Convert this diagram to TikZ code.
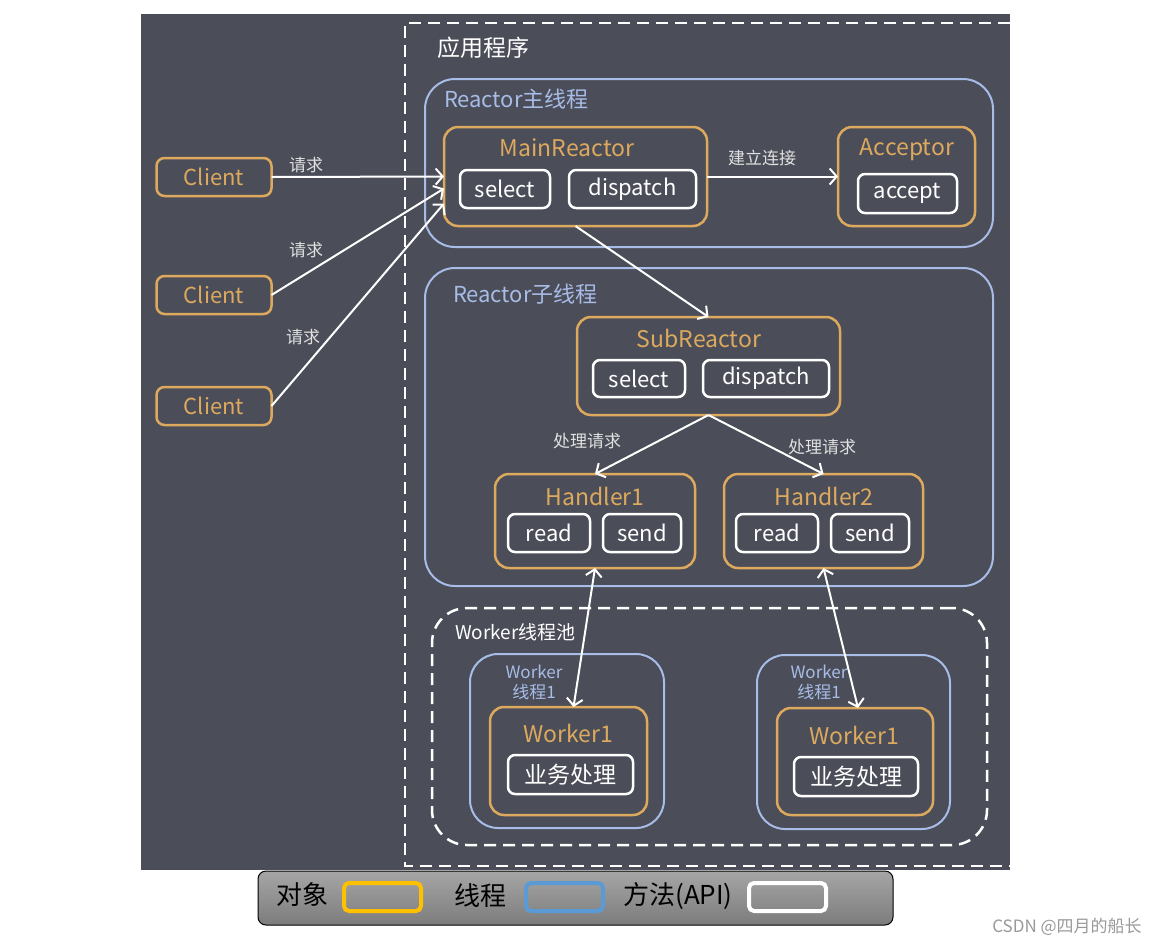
\documentclass[tikz,border=0pt]{standalone}
\usepackage{fontspec}
\setmainfont{Noto Sans CJK SC}
\usetikzlibrary{arrows.meta}
\definecolor{panel}{HTML}{4B4E58}
\definecolor{objc}{HTML}{DDA95E}
\definecolor{thrc}{HTML}{A8BCE8}
\definecolor{legtop}{HTML}{A6A6A6}
\definecolor{legbot}{HTML}{7C7C7C}
\definecolor{legobj}{HTML}{FFC000}
\definecolor{legthr}{HTML}{5B9BD5}
\begin{document}
\begin{tikzpicture}[x=1pt,y=-1pt,
    every node/.style={inner sep=0pt, outer sep=0pt},
    obj/.style={draw=objc, line width=2.5pt, rounded corners=14pt},
    thr/.style={draw=thrc, line width=2pt, rounded corners=30pt},
    api/.style={draw=white, line width=2.5pt, rounded corners=7pt, text=white, font=\fontsize{22}{22}\selectfont},
    ttl/.style={text=objc, font=\fontsize{23}{23}\selectfont},
    grp/.style={text=thrc, font=\fontsize{22}{22}\selectfont, anchor=west},
    lbl/.style={text=white!88!black, font=\fontsize{17}{17}\selectfont},
    flow/.style={draw=white, line width=2pt, -{Straight Barb[length=7pt,width=16pt]}},
    both/.style={draw=white, line width=2pt, {Straight Barb[length=7pt,width=16pt]}-{Straight Barb[length=7pt,width=16pt]}},
    swatch/.style={line width=4pt, rounded corners=5pt, minimum width=77pt, minimum height=28pt},
    legtxt/.style={text=black, font=\fontsize{26}{26}\selectfont}]
  \useasboundingbox (0,0) rectangle (1167,946);
  \fill[panel] (141,14) rectangle (1010,870);
  % application frame
  \draw[white, line width=2.5pt, dash pattern=on 12pt off 7pt] (1010,23) -- (405,23) -- (405,866) -- (1010,866);
  \node[text=white, font=\fontsize{23}{23}\selectfont, anchor=west] (app) at (437,48) {应用程序};

  % clients
  \node[obj, minimum width=115pt, minimum height=38pt, rounded corners=8pt, ttl, font=\fontsize{22}{22}\selectfont] (cl1) at (214,177) {Client};
  \node[obj, minimum width=115pt, minimum height=38pt, rounded corners=8pt, ttl, font=\fontsize{22}{22}\selectfont] (cl2) at (214,295) {Client};
  \node[obj, minimum width=115pt, minimum height=38pt, rounded corners=8pt, ttl, font=\fontsize{22}{22}\selectfont] (cl3) at (214,406) {Client};

  % reactor main thread
  \node[thr, minimum width=568pt, minimum height=168pt] (mainthr) at (709,163) {};
  \node[grp] (mainthrt) at (444,99) {Reactor主线程};
  \node[obj, minimum width=263pt, minimum height=99pt] (mr) at (575.5,176.5) {};
  \node[ttl] (mrt) at (567,148) {MainReactor};
  \node[api, minimum width=90pt, minimum height=38pt] (mrsel) at (505,189) {select};
  \node[api, minimum width=127pt, minimum height=38pt] (mrdis) at (632.5,189) {dispatch};
  \node[obj, minimum width=137pt, minimum height=99pt] (acc) at (906.5,176.5) {};
  \node[ttl] (acct) at (907,150) {Acceptor};
  \node[api, minimum width=99pt, minimum height=39pt] (accp) at (907.5,193.5) {accept};

  % reactor sub thread
  \node[thr, minimum width=568pt, minimum height=318pt] (subthr) at (709,427) {};
  \node[grp] (subthrt) at (453,294) {Reactor子线程};
  \node[obj, minimum width=263pt, minimum height=98pt] (sr) at (708.5,366) {};
  \node[ttl] (srt) at (699,338) {SubReactor};
  \node[api, minimum width=92pt, minimum height=37pt] (srsel) at (639,378.5) {select};
  \node[api, minimum width=126pt, minimum height=37pt] (srdis) at (766,378.5) {dispatch};
  \node[obj, minimum width=200pt, minimum height=94pt] (h1) at (595,521) {};
  \node[ttl] (h1t) at (595,496) {Handler1};
  \node[api, minimum width=82pt, minimum height=38pt] (h1r) at (549,533) {read};
  \node[api, minimum width=78pt, minimum height=38pt] (h1s) at (642,533) {send};
  \node[obj, minimum width=199pt, minimum height=94pt] (h2) at (823.5,521) {};
  \node[ttl] (h2t) at (824,496) {Handler2};
  \node[api, minimum width=82pt, minimum height=38pt] (h2r) at (777,533) {read};
  \node[api, minimum width=78pt, minimum height=38pt] (h2s) at (870,533) {send};

  % worker pool
  \node[draw=white, line width=2.5pt, dash pattern=on 12pt off 7pt, rounded corners=35pt, minimum width=555pt, minimum height=237pt] (pool) at (709.5,726.5) {};
  \node[text=white, font=\fontsize{19}{19}\selectfont, anchor=west] (poolt) at (455,632) {Worker线程池};
  \node[thr, minimum width=194pt, minimum height=174pt, rounded corners=28pt] (wt1) at (567,741) {};
  \node[text=thrc, font=\fontsize{17}{20}\selectfont, align=center] (wt1t) at (534,682) {Worker\\线程1};
  \node[obj, minimum width=157pt, minimum height=108pt] (wk1) at (568.5,761) {};
  \node[ttl] (wk1t) at (568,733) {Worker1};
  \node[api, minimum width=125pt, minimum height=39pt, font=\fontsize{23}{23}\selectfont] (wk1b) at (570.5,774.5) {业务处理};
  \node[thr, minimum width=193pt, minimum height=174pt, rounded corners=28pt] (wt2) at (853.5,742) {};
  \node[text=thrc, font=\fontsize{17}{20}\selectfont, align=center] (wt2t) at (819,682) {Worker\\线程1};
  \node[obj, minimum width=156pt, minimum height=107pt] (wk2) at (855,761.5) {};
  \node[ttl] (wk2t) at (854,735) {Worker1};
  \node[api, minimum width=124pt, minimum height=39pt, font=\fontsize{23}{23}\selectfont] (wk2b) at (856,776.5) {业务处理};

  % connectors
  \draw[flow] (cl1.east) -- (mr.west);
  \draw[flow] (cl2.east) -- ([yshift=-12pt]mr.west);
  \draw[flow] (cl3.east) -- ([yshift=-27pt]mr.west);
  \node[lbl] (rq1) at (306,165) {请求};
  \node[lbl] (rq2) at (306,250) {请求};
  \node[lbl] (rq3) at (303,337) {请求};
  \draw[flow] (mr.east) -- (acc.west);
  \node[lbl] (conn) at (762,158) {建立连接};
  \draw[flow] (mr.south) -- (sr.north);
  \draw[flow] (sr.south) -- (h1.north);
  \draw[flow] (sr.south) -- (h2.north);
  \node[lbl] (hd1) at (587,441) {处理请求};
  \node[lbl] (hd2) at (822,447) {处理请求};
  \draw[both] (h1.south) -- ([xshift=5pt]wk1.north);
  \draw[both] (h2.south) -- ([xshift=3pt]wk2.north);

  % legend
  \node[draw=black, line width=1pt, rounded corners=8pt, top color=legtop, bottom color=legbot, minimum width=635pt, minimum height=54pt] (leg) at (575.5,898) {};
  \node[legtxt] (legobjt) at (302,895) {对象};
  \node[swatch, draw=legobj] (legobjs) at (382.5,897) {};
  \node[legtxt] (legthrt) at (480,896) {线程};
  \node[swatch, draw=legthr] (legthrs) at (564.5,897) {};
  \node[legtxt] (legapit) at (678,896) {方法(API)};
  \node[swatch, draw=white] (legapis) at (787.5,897) {};
  \node[text=black!40, font=\fontsize{17}{17}\selectfont] (mark) at (1067,927) {CSDN @四月的船长};
\end{tikzpicture}
\end{document}
